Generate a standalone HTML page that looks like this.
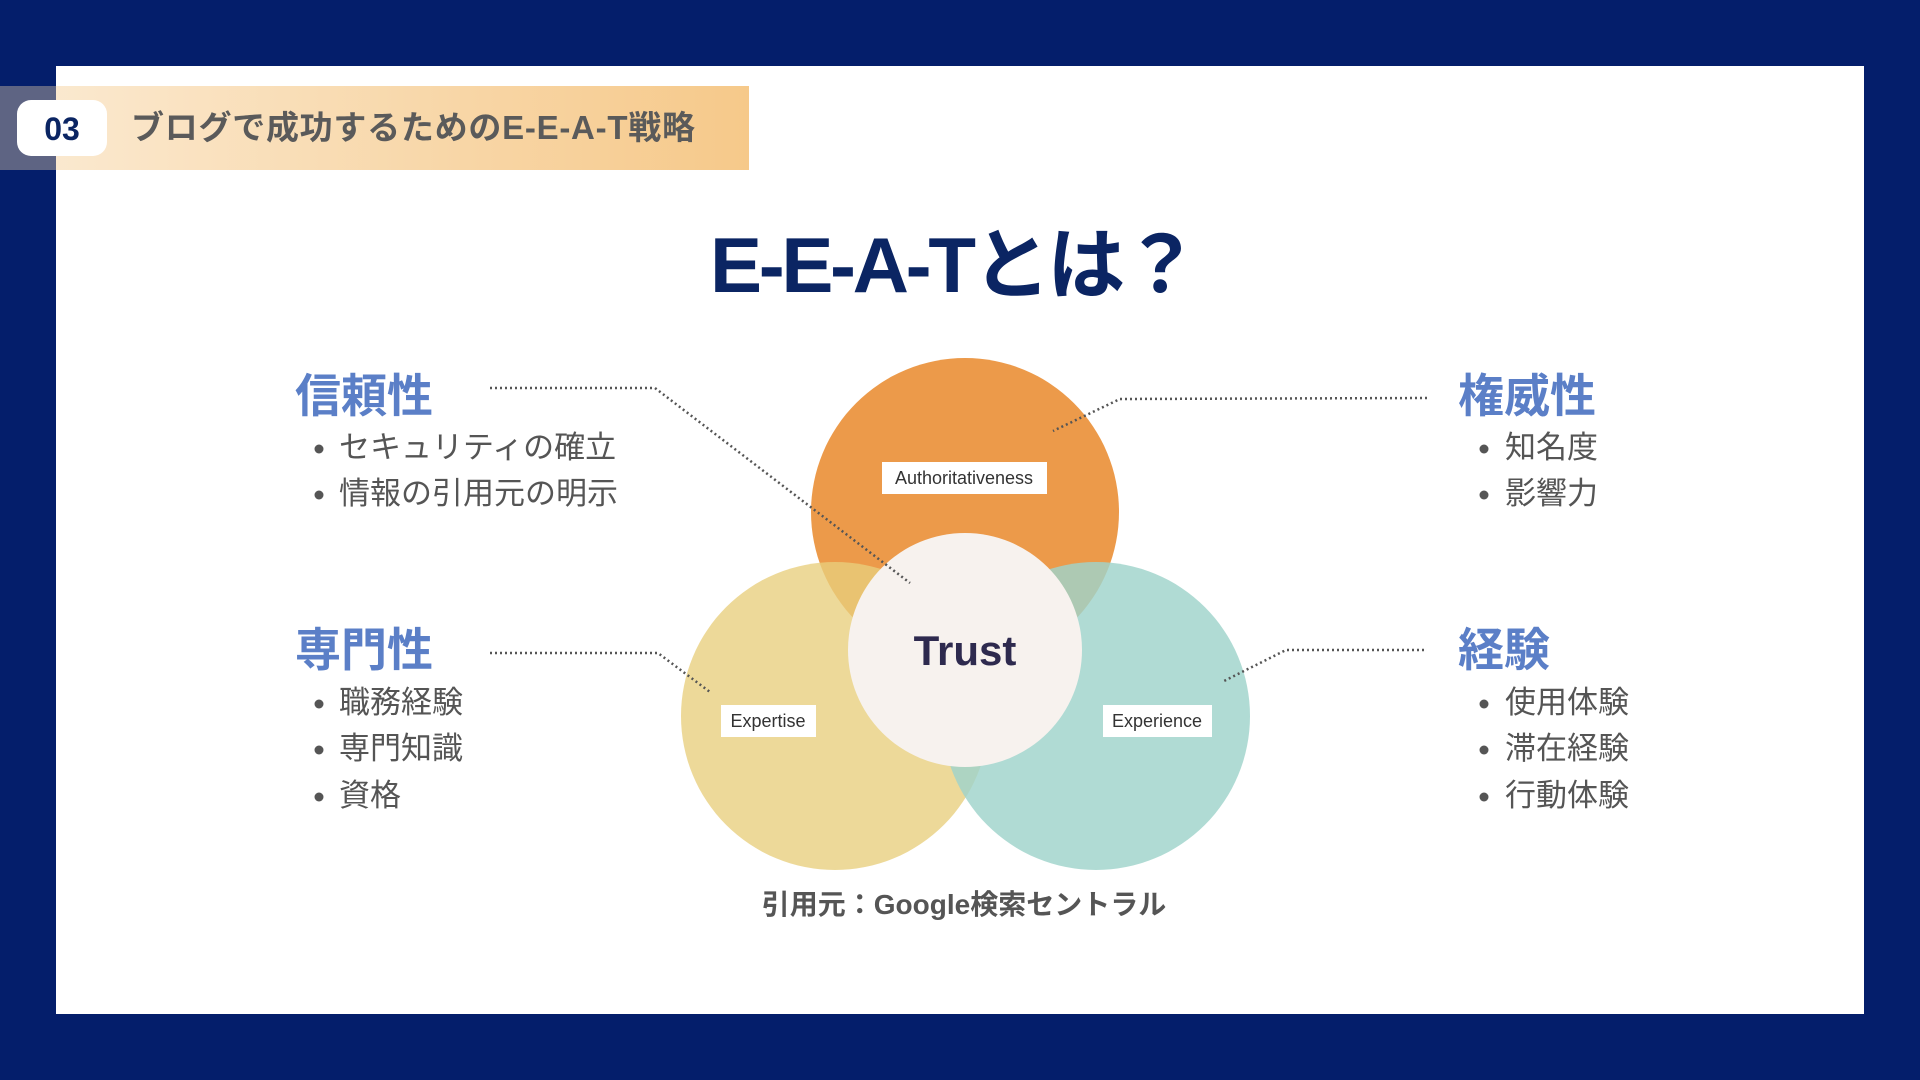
<!DOCTYPE html>
<html><head><meta charset="utf-8"><style>
html,body{margin:0;padding:0;width:1920px;height:1080px;overflow:hidden;background:#041E6B;}
svg{display:block}
text{font-family:"Liberation Sans","Noto Sans CJK JP",sans-serif;}
</style></head><body>
<svg width="1920" height="1080" viewBox="0 0 1920 1080">
<defs>
<linearGradient id="hg" x1="0" x2="1">
<stop offset="0" stop-color="#FBEBD4"/><stop offset="1" stop-color="#F6C98A"/>
</linearGradient>
</defs>
<rect x="0" y="0" width="1920" height="1080" fill="#041E6B"/>
<rect x="56" y="66" width="1808" height="948" fill="#fff"/>
<rect x="0" y="86" width="749" height="84" fill="url(#hg)"/>
<rect x="0" y="86" width="56" height="84" fill="#5E6483"/>
<rect x="17" y="100" width="90" height="56" rx="14" fill="#fff"/>
<text x="62" y="140" font-size="32" font-weight="bold" fill="#0B2563" text-anchor="middle">03</text>
<text x="131" y="139" font-size="33" font-weight="bold" fill="#5A5A5A" textLength="564">ブログで成功するためのE-E-A-T戦略</text>
<text x="955" y="292" font-size="78" font-weight="bold" fill="#0B2563" text-anchor="middle" textLength="490">E-E-A-Tとは？</text>

<circle cx="965" cy="512" r="154" fill="#EC9A4A"/>
<circle cx="835" cy="716" r="154" fill="#E8CE7C" opacity="0.78"/>
<circle cx="1096" cy="716" r="154" fill="#9FD3CB" opacity="0.82"/>
<circle cx="965" cy="650" r="117" fill="#F7F2EE"/>
<text x="965" y="665" font-size="42" font-weight="bold" fill="#2E2A4E" text-anchor="middle">Trust</text>
<rect x="882" y="462" width="165" height="32" fill="#fff"/>
<text x="964" y="484" font-size="18" fill="#333" text-anchor="middle">Authoritativeness</text>
<rect x="721" y="705" width="95" height="32" fill="#fff"/>
<text x="768" y="727" font-size="18" fill="#333" text-anchor="middle">Expertise</text>
<rect x="1103" y="705" width="109" height="32" fill="#fff"/>
<text x="1157" y="727" font-size="18" fill="#333" text-anchor="middle">Experience</text>

<g fill="none" stroke="#555" stroke-width="2.5" stroke-dasharray="2 3">
<polyline points="490,388 655,388 910,583"/>
<polyline points="1427,398 1120,399 1053,431"/>
<polyline points="490,653 658,653 710,692"/>
<polyline points="1424,650 1286,650 1222,682"/>
</g>

<g font-weight="bold" fill="#5B7FC7" font-size="46">
<text x="295" y="412">信頼性</text>
<text x="295" y="666">専門性</text>
<text x="1458" y="412">権威性</text>
<text x="1458" y="666">経験</text>
</g>
<g fill="#555" font-size="31">
<g><circle cx="319" cy="449" r="4.5"/><text x="339" y="458">セキュリティの確立</text></g>
<g><circle cx="319" cy="495" r="4.5"/><text x="339" y="504">情報の引用元の明示</text></g>
<g><circle cx="319" cy="704" r="4.5"/><text x="339" y="713">職務経験</text></g>
<g><circle cx="319" cy="750" r="4.5"/><text x="339" y="759">専門知識</text></g>
<g><circle cx="319" cy="797" r="4.5"/><text x="339" y="806">資格</text></g>
<g><circle cx="1484" cy="449" r="4.5"/><text x="1505" y="458">知名度</text></g>
<g><circle cx="1484" cy="495" r="4.5"/><text x="1505" y="504">影響力</text></g>
<g><circle cx="1484" cy="704" r="4.5"/><text x="1505" y="713">使用体験</text></g>
<g><circle cx="1484" cy="750" r="4.5"/><text x="1505" y="759">滞在経験</text></g>
<g><circle cx="1484" cy="797" r="4.5"/><text x="1505" y="806">行動体験</text></g>
</g>
<text x="964" y="914" font-size="28" font-weight="bold" fill="#555" text-anchor="middle">引用元：Google検索セントラル</text>
</svg>
</body></html>
